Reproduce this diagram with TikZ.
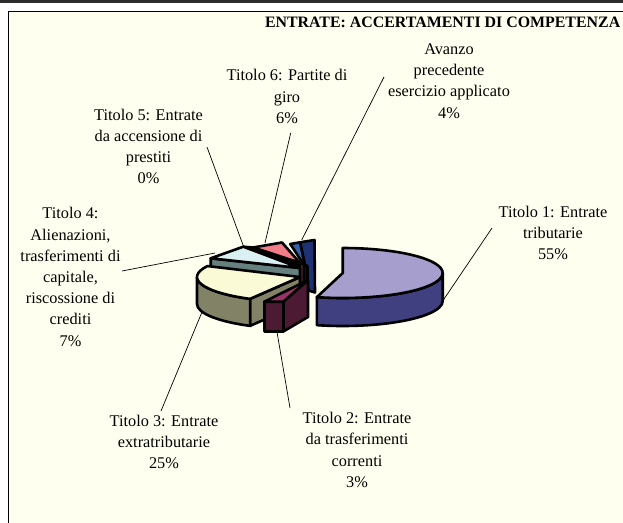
\documentclass[tikz,border=0pt]{standalone}
\usepackage{fontspec}
\setmainfont{Liberation Serif}
\definecolor{bgivory}{RGB}{255,255,240}
\definecolor{topbar}{RGB}{45,45,45}
\definecolor{cAtop}{RGB}{166,158,204}
\definecolor{cAside}{RGB}{64,64,128}
\definecolor{cBtop}{RGB}{153,51,102}
\definecolor{cBside}{RGB}{77,26,51}
\definecolor{cCtop}{RGB}{250,250,214}
\definecolor{cCside}{RGB}{130,130,102}
\definecolor{cDtop}{RGB}{218,240,242}
\definecolor{cDside}{RGB}{102,128,128}
\definecolor{cEside}{RGB}{60,10,60}
\definecolor{cFtop}{RGB}{242,125,135}
\definecolor{cFside}{RGB}{128,60,64}
\definecolor{cGtop}{RGB}{52,96,172}
\definecolor{cGside}{RGB}{30,50,115}
\begin{document}
\begin{tikzpicture}[x=1pt,y=-1pt,line join=round,
  outl/.style={draw=black,line width=2.6pt},
  lead/.style={draw=black,line width=0.7pt},
  lbl/.style={align=center,inner sep=0pt,font=\fontsize{16.3}{21.2}\selectfont},
  ttl/.style={inner sep=0pt,font=\fontsize{15.9}{19}\selectfont\bfseries}]
\useasboundingbox (0,0) rectangle (623,522);
\fill[white] (0,0) rectangle (623,522);
\fill[topbar] (0,0) rectangle (623,2.8);
\draw[line width=1.4pt,fill=bgivory] (8.7,11.7) rectangle (660,560);

% labels
\node[ttl,anchor=east] (title) at (620.5,22) {ENTRATE: ACCERTAMENTI DI COMPETENZA};
\node[lbl] (lav) at (449,81) {Avanzo\\precedente\\esercizio applicato\\4\%};
\node[lbl] (lt6) at (287,96.5) {Titolo 6: Partite di\\giro\\6\%};
\node[lbl] (lt5) at (148.5,146.5) {Titolo 5: Entrate\\da accensione di\\prestiti\\0\%};
\node[lbl] (lt4) at (70.5,277) {Titolo 4:\\Alienazioni,\\trasferimenti di\\capitale,\\riscossione di\\crediti\\7\%};
\node[lbl] (lt1) at (553,233) {Titolo 1: Entrate\\tributarie\\55\%};
\node[lbl] (lt3) at (164,442) {Titolo 3: Entrate\\extratributarie\\25\%};
\node[lbl] (lt2) at (357,450) {Titolo 2: Entrate\\da trasferimenti\\correnti\\3\%};

% leader line end points
\coordinate (av1) at (384,77);   \coordinate (av2) at (301.7,240);
\coordinate (t61) at (290.7,133); \coordinate (t62) at (265,243);
\coordinate (t51) at (207,147);   \coordinate (t52) at (243,245);
\coordinate (t41) at (122,271);   \coordinate (t42) at (215,253);
\coordinate (t11) at (492,228);   \coordinate (t12) at (442,302);
\coordinate (t31) at (161,411);   \coordinate (t32) at (202,312);
\coordinate (t21) at (290,408);   \coordinate (t22) at (277,332);
\draw[lead] (av1) -- (av2);
\draw[lead] (t61) -- (t62);
\draw[lead] (t51) -- (t52);
\draw[lead] (t41) -- (t42);
\draw[lead] (t11) -- (t12);
\draw[lead] (t31) -- (t32);
\draw[lead] (t21) -- (t22);

% Avanzo (blue)
\draw[outl,fill=cGside] (300,242.3) -- (314.5,240) -- (315,292.5) -- (308.5,290.5) -- (305.3,267) -- cycle;
\draw[outl,fill=cGtop] (290.3,244) -- (300,242.3) -- (305.3,267) -- cycle;

% Titolo 6 (red)
\draw[outl,fill=cFtop] (253,247.5) -- (282,242.5) -- (300,263) -- cycle;
% Titolo 5 (0%)
\draw[outl,fill=black] (243,246.7) -- (253,247.5) -- (300,263) -- (298,267) -- cycle;

% middle strips
\draw[outl,fill=cFside] (300,263) -- (304,264.5) -- (304,292) -- (300,292) -- cycle;
\draw[outl,fill=cEside] (304,264.5) -- (307.5,266) -- (307.5,292) -- (304,292) -- cycle;

% Titolo 4 (cyan)
\draw[outl,fill=cDside] (210.7,258.3) -- (300,268) -- (300,295) -- (210.7,285) -- cycle;
\draw[outl,fill=cDtop] (210.7,258.3) -- (243.3,246.7) -- (300,268) -- cycle;

% Titolo 1 (lavender)
\begin{scope}[shift={(342.7,273)}]
  \draw[outl,fill=cAside] (105:100 and 25) arc[start angle=105,end angle=0,x radius=100,y radius=25]
     -- ++(0,28) arc[start angle=0,end angle=105,x radius=100,y radius=25] -- cycle;
  \draw[outl,fill=cAtop] (0,0) -- (-90:100 and 25) arc[start angle=-90,end angle=105,x radius=100,y radius=25] -- cycle;
\end{scope}

% Titolo 3 (yellow)
\begin{scope}[shift={(300,277)}]
  \draw[outl,fill=cCside] (0,0) -- (119:103 and 25) -- ++(0,27) -- (0,27) -- cycle;
  \draw[outl,fill=cCside] (119:103 and 25) arc[start angle=119,end angle=180,x radius=103,y radius=25]
     -- ++(0,27) arc[start angle=180,end angle=119,x radius=103,y radius=25] -- cycle;
  \draw[outl,fill=cCtop] (0,0) -- (119:103 and 25) arc[start angle=119,end angle=206,x radius=103,y radius=25] -- cycle;
\end{scope}

% Titolo 2 (maroon)
\draw[outl,fill=cBside] (283.3,301.7) -- (308,280) -- (308,317) -- (283.3,331.5) -- cycle;
\draw[outl,fill=cBside] (264.3,301.7) -- (283.3,301.7) -- (283.3,331.5) -- (264.3,331.5) -- cycle;
\draw[outl,fill=cBtop] (264.3,301.7) -- (283.3,301.7) -- (308,280) -- cycle;
\end{tikzpicture}
\end{document}
